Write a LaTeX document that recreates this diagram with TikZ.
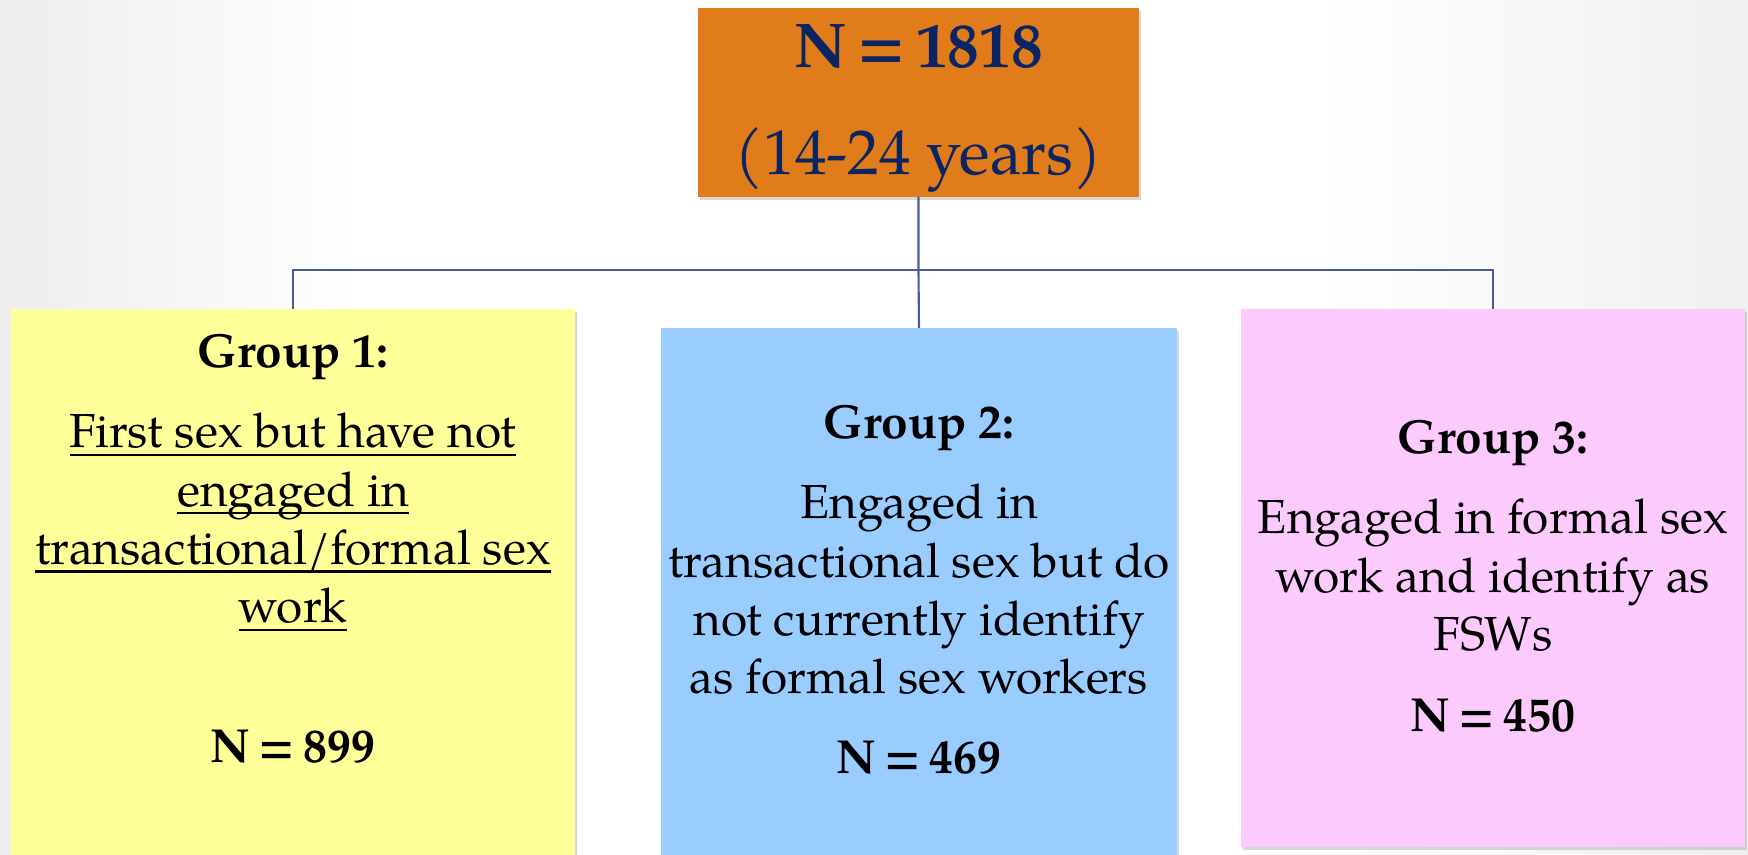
\documentclass[tikz,border=0pt]{standalone}
\usepackage{fontspec}
\setmainfont{TeX Gyre Pagella}
\usetikzlibrary{shadows}

\definecolor{totalfill}{HTML}{E07C1A}
\definecolor{totaltext}{HTML}{0B2463}
\definecolor{groupone}{HTML}{FFFF99}
\definecolor{grouptwo}{HTML}{99CCFF}
\definecolor{groupthree}{HTML}{FCCAFC}
\definecolor{linkblue}{HTML}{4A5C96}

% underline at a fixed depth under the baseline
\newcommand\ulinetext[1]{\setbox0\hbox{#1}\rlap{\rule[-2.3pt]{\wd0}{0.65pt}}\box0}
% sample size, with slightly tighter spaces round the equals sign
\newcommand\samplesize[1]{\textbf{N\hspace{0.17em}=\hspace{0.17em}#1}}

\begin{document}
\begin{tikzpicture}[
    box/.style={outer sep=0pt, inner sep=0pt, drop shadow={shadow xshift=0.7pt, shadow yshift=-0.9pt, opacity=0.3}},
    grouptext/.style={inner sep=0pt, align=center, font=\fontsize{13.6}{16.6}\selectfont},
    link/.style={draw=linkblue, line width=0.6pt}
]

    % slide background
    \fill[white] (0,0) rectangle (17.48,-8.55);
    \shade[left color=black!7, right color=white] (0,0) rectangle (3.6,-8.55);
    \shade[left color=white, right color=black!6] (13.2,0) rectangle (17.48,-8.55);
    \useasboundingbox (0,0) rectangle (17.48,-8.55);

    \node (total) [box, fill=totalfill, minimum width=4.41cm, minimum height=1.89cm] at (9.185,-1.025) {};
    \node (totaltext) [inner sep=0pt, text=totaltext, align=center, font=\fontsize{18}{30.5}\selectfont] at (9.185,-1.085) {\samplesize{1818}\\(14-24 years)};

    \node (group1) [box, fill=groupone, minimum width=5.64cm, minimum height=5.46cm] at (2.93,-5.82) {};
    \node (group2) [box, fill=grouptwo, minimum width=5.16cm, minimum height=5.27cm] at (9.19,-5.915) {};
    \node (group3) [box, fill=groupthree, minimum width=5.04cm, minimum height=5.38cm] at (14.93,-5.78) {};

    \node (group1text) [grouptext] at (2.93,-5.49) {\textbf{Group 1:}\\[6.2pt]
        \ulinetext{First sex but have not}\\
        \ulinetext{engaged in}\\
        \ulinetext{transactional/formal sex}\\
        \ulinetext{work}\\[23.2pt]
        \samplesize{899}};

    \node (group2text) [grouptext] at (9.19,-5.90) {\textbf{Group 2:}\\[6.2pt]
        Engaged in\\
        transactional sex but do\\
        not currently identify\\
        as formal sex workers\\[6.2pt]
        \samplesize{469}};

    \node (group3text) [grouptext] at (14.93,-5.76) {\textbf{Group 3:}\\[6.4pt]
        Engaged in formal sex\\
        work and identify as\\
        FSWs\\[6.4pt]
        \samplesize{450}};

    \coordinate (split) at (9.185,-2.70);

    \draw [link] (total.south) -- (split) -- (group2.north);
    \draw [link] (split) -| (group1.north);
    \draw [link] (split) -| (group3.north);

\end{tikzpicture}
\end{document}
